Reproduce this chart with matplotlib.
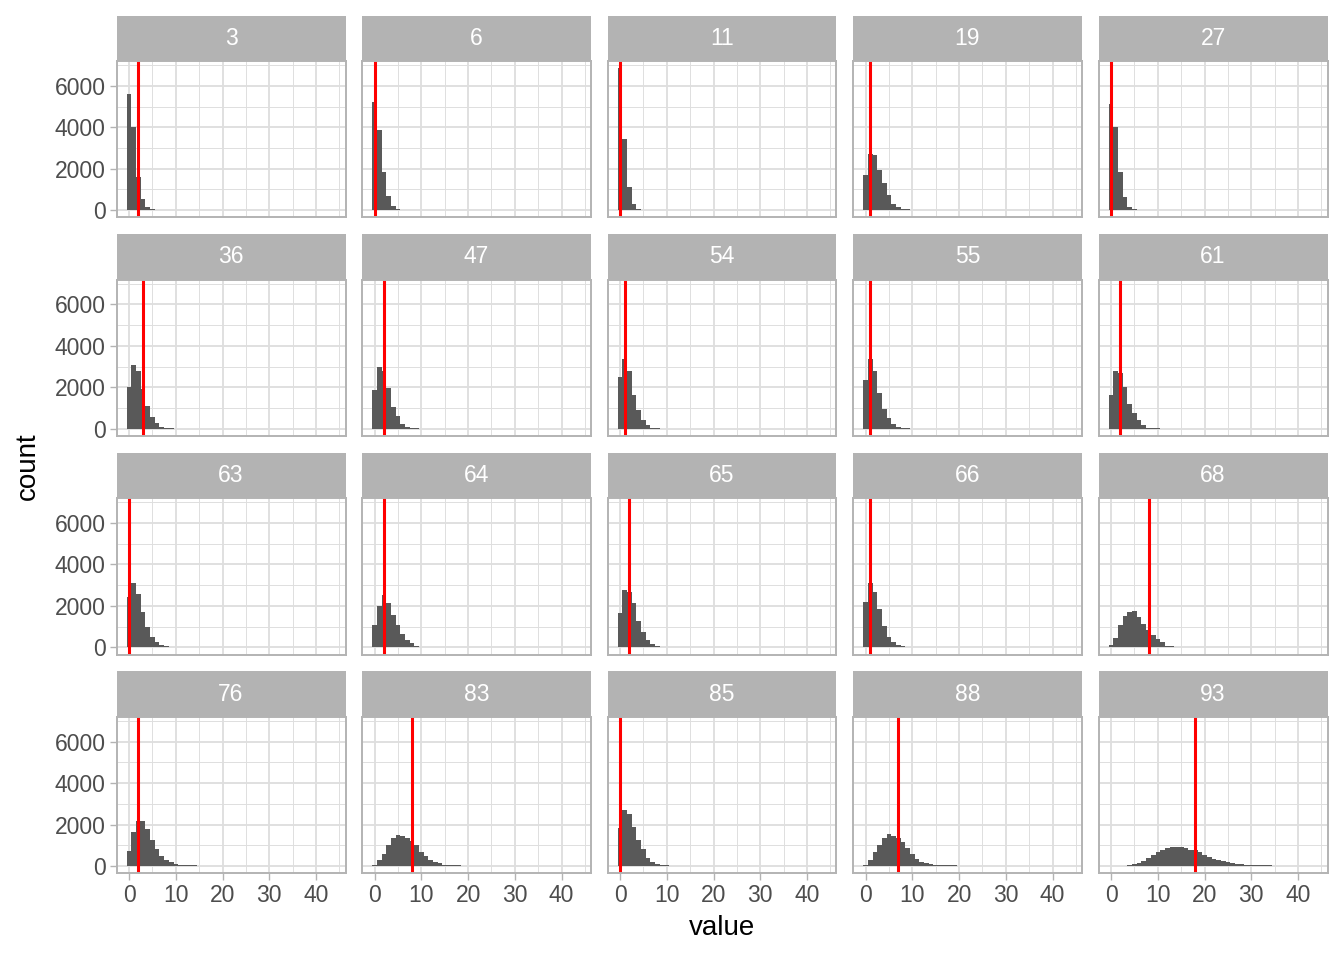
import numpy as np
import matplotlib
matplotlib.use('Agg')
import matplotlib.pyplot as plt

plt.rcParams['font.family'] = ['Liberation Sans', 'DejaVu Sans']

# facet labels, reading order (5 per row)
panels = ['3', '6', '11', '19', '27',
          '36', '47', '54', '55', '61',
          '63', '64', '65', '66', '68',
          '76', '83', '85', '88', '93']

# red reference line for each facet
ref_lines = [2, 0, 0, 1, 0,
             3, 2, 1, 1, 2,
             0, 2, 2, 1, 8,
             2, 8, 0, 7, 18]

# histogram counts, bin k is centred on value k (binwidth 1)
counts_3 = [5616, 4032, 1584, 528, 160, 40]
counts_6 = [5232, 3888, 1824, 672, 192, 48]
counts_11 = [6850, 3457, 1142, 322, 48]
counts_19 = [1720, 2730, 2680, 1960, 1300, 720, 320, 160, 80, 45]
counts_27 = [5146, 4036, 1833, 659, 177, 48]
counts_36 = [2040, 3100, 2770, 1900, 1080, 560, 270, 110, 45, 40]
counts_47 = [1850, 2960, 2770, 1990, 1060, 600, 240, 100, 45, 40]
counts_54 = [2480, 3350, 2770, 1640, 930, 430, 160, 50, 40]
counts_55 = [2330, 3345, 2766, 1750, 933, 498, 209, 64, 40, 35]
counts_61 = [1610, 2810, 2670, 2040, 1200, 760, 420, 160, 50, 40, 35]
counts_63 = [2450, 3100, 2580, 1710, 990, 510, 270, 130, 45, 35]
counts_64 = [1090, 2000, 2530, 2140, 1550, 1100, 670, 350, 200, 80, 40]
counts_65 = [1680, 2770, 2670, 2140, 1250, 740, 370, 140, 45, 40]
counts_66 = [2190, 3100, 2670, 1860, 1040, 510, 270, 100, 45, 35]
counts_68 = [128, 464, 1088, 1520, 1696, 1760, 1456, 1120, 848, 608,
             384, 240, 80, 64, 40]
counts_76 = [736, 1650, 2180, 2150, 1790, 1260, 830, 500, 300, 180,
             110, 64, 48, 40, 35]
counts_83 = [64, 272, 592, 1024, 1344, 1504, 1456, 1344, 1216, 992,
             672, 480, 304, 208, 128, 64, 64, 40, 40]
counts_85 = [1840, 2700, 2510, 1890, 1260, 830, 400, 210, 110, 45, 35]
counts_88 = [64, 274, 660, 1030, 1368, 1562, 1465, 1368, 1175, 850,
             560, 360, 210, 130, 80, 50, 45, 40, 40, 35]
counts_93 = [0, 0, 0, 0, 30, 80, 145, 258, 400, 550,
             660, 773, 853, 900, 934, 900, 853, 773, 773, 660,
             520, 430, 350, 290, 225, 177, 145, 113, 80, 64,
             50, 45, 40, 40, 35]

counts = [counts_3, counts_6, counts_11, counts_19, counts_27,
          counts_36, counts_47, counts_54, counts_55, counts_61,
          counts_63, counts_64, counts_65, counts_66, counts_68,
          counts_76, counts_83, counts_85, counts_88, counts_93]

# layout in pixels (ggplot facet_wrap look)
W, H = 1344, 960
left0, pitch_x, pw = 116.5, 245.5, 229
top0, pitch_y, ph = 61, 218.6, 156.3
strip_h = 45.5

fig = plt.figure(figsize=(W / 100, H / 100), dpi=100)

grid_col = '#DEDEDE'
border_col = '#B3B3B3'
tick_col = '#4D4D4D'

for i, (lab, cnt, ref) in enumerate(zip(panels, counts, ref_lines)):
    r, c = divmod(i, 5)
    x = left0 + c * pitch_x
    y = top0 + r * pitch_y

    ax = fig.add_axes([x / W, 1 - (y + ph) / H, pw / W, ph / H])
    ax.bar(np.arange(len(cnt)), cnt, width=1.0, color='#595959', linewidth=0)
    ax.axvline(ref, color='red', lw=2.2)

    ax.set_xlim(-2.7, 46.3)
    ax.set_ylim(-343, 7197)
    ax.set_xticks([0, 10, 20, 30, 40])
    ax.set_xticks([5, 15, 25, 35, 45], minor=True)
    ax.set_yticks([0, 2000, 4000, 6000])
    ax.set_yticks([1000, 3000, 5000, 7000], minor=True)
    ax.set_axisbelow(True)
    ax.grid(which='major', color=grid_col, lw=1.35)
    ax.grid(which='minor', color=grid_col, lw=0.7)
    for s in ax.spines.values():
        s.set_color(border_col)
        s.set_linewidth(1.4)

    ax.tick_params(which='minor', length=0)
    ax.tick_params(which='major', length=5, width=1, color=border_col,
                   labelcolor=tick_col, labelsize=16.5, pad=3)
    if c != 0:
        ax.tick_params(axis='y', length=0, labelleft=False)
    if r != 3:
        ax.tick_params(axis='x', length=0, labelbottom=False)

    # strip on top of each panel
    st = fig.add_axes([x / W, 1 - y / H, pw / W, strip_h / H])
    st.set_facecolor('#B3B3B3')
    st.set_xticks([])
    st.set_yticks([])
    for s in st.spines.values():
        s.set_visible(False)
    st.text(0.5, 0.5, lab, color='white', fontsize=16.5,
            ha='center', va='center', transform=st.transAxes)

fig.text(28 / W, 1 - 466 / H, 'count', rotation=90, fontsize=20,
         ha='center', va='center')
fig.text(722 / W, 1 - 928 / H, 'value', fontsize=20,
         ha='center', va='center')

fig.savefig('out.png', dpi=100, facecolor='white')
